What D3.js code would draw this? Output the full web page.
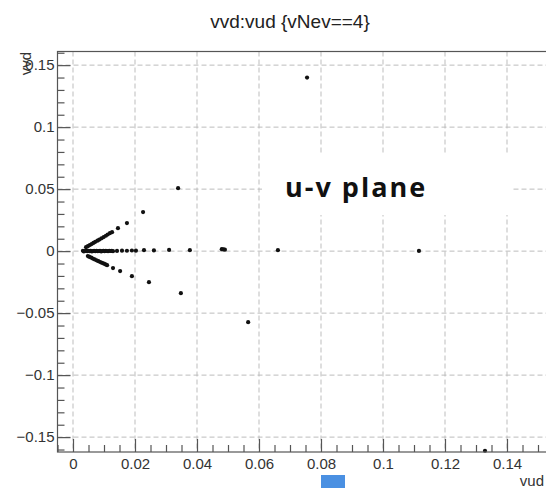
<!DOCTYPE html>
<html>
<head>
<meta charset="utf-8">
<script src="https://cdn.jsdelivr.net/npm/d3@7"></script>
<style>
  html, body { margin: 0; padding: 0; background: #fff; }
  svg { display: block; }
</style>
</head>
<body>
<svg id="chart" width="546" height="488"></svg>
<script>
// vud (x) and vvd (y) for events with vNev==4
const vud = [
  // cluster along vvd = 0
  0.0032, 0.0035, 0.0039, 0.0043, 0.0046, 0.0050, 0.0054, 0.0057, 0.0061, 0.0065,
  0.0068, 0.0072, 0.0076, 0.0080, 0.0083, 0.0087, 0.0091, 0.0095, 0.0098, 0.0102,
  0.0106, 0.0110, 0.0113, 0.0117, 0.0121, 0.0125, 0.0129,
  0.0142, 0.0158, 0.0174, 0.0190, 0.0203, 0.0229, 0.0261, 0.0310, 0.0377,
  0.0480, 0.0485, 0.0490, 0.0661, 0.1116,
  // upper branch
  0.0042, 0.0048, 0.0054, 0.0060, 0.0066, 0.0072, 0.0079, 0.0085, 0.0092, 0.0099,
  0.0106, 0.0112, 0.0119, 0.0126, 0.0145, 0.0174, 0.0226, 0.0339, 0.0755,
  // lower branch
  0.0048, 0.0053, 0.0059, 0.0064, 0.0070, 0.0076, 0.0082, 0.0088, 0.0094, 0.0100,
  0.0105, 0.0110, 0.0129, 0.0152, 0.0190, 0.0245, 0.0348, 0.0565, 0.1329
];
const vvd = [
  0.0003, -0.0002, 0.0001, 0.0004, -0.0001, 0.0002, 0.0000, 0.0003, -0.0002, 0.0001,
  0.0002, -0.0001, 0.0003, 0.0000, 0.0001, 0.0002, -0.0002, 0.0001, 0.0003, 0.0000,
  0.0002, 0.0001, -0.0001, 0.0003, 0.0001, 0.0002, 0.0000,
  0.0002, 0.0004, 0.0003, 0.0005, 0.0004, 0.0008, 0.0006, 0.0010, 0.0008,
  0.0016, 0.0014, 0.0012, 0.0008, 0.0002,
  0.0032, 0.0040, 0.0049, 0.0057, 0.0066, 0.0075, 0.0084, 0.0093, 0.0103, 0.0113,
  0.0124, 0.0134, 0.0145, 0.0153, 0.0185, 0.0226, 0.0315, 0.0508, 0.1400,
  -0.0040, -0.0047, -0.0053, -0.0060, -0.0067, -0.0074, -0.0081, -0.0088, -0.0095, -0.0101,
  -0.0107, -0.0113, -0.0137, -0.0161, -0.0202, -0.0250, -0.0339, -0.0573, -0.1610
];

const xMajor = [0, 0.02, 0.04, 0.06, 0.08, 0.1, 0.12, 0.14, 0.16];
const xMajorLabels = ["0", "0.02", "0.04", "0.06", "0.08", "0.1", "0.12", "0.14", ""];
const yMajor = [-0.15, -0.1, -0.05, 0, 0.05, 0.1, 0.15];
const yMajorLabels = ["\u22120.15", "\u22120.1", "\u22120.05", "0", "0.05", "0.1", "0.15"];

const title = "vvd:vud {vNev==4}";
const xTitle = "vud";
const yTitle = "vvd";
const note = "u-v plane";

const svg = d3.select("#chart");
const W = 546, H = 488;
svg.append("rect").attr("width", W).attr("height", H).attr("fill", "#fff");

// frame extends past the right edge of the canvas
const frame = { left: 57.5, right: 569, top: 51.5, bottom: 452 };
const x = d3.scaleLinear().domain([-0.005, 0.16]).range([frame.left, frame.right]);
const y = d3.scaleLinear().domain([-0.162, 0.161]).range([frame.bottom, frame.top]);

const xMinor = d3.range(-0.005, 0.1601, 0.005).map(v => +v.toFixed(4))
  .filter(v => !xMajor.some(m => Math.abs(m - v) < 1e-9));
const yMinor = d3.range(-0.16, 0.1601, 0.01).map(v => +v.toFixed(4))
  .filter(v => !yMajor.some(m => Math.abs(m - v) < 1e-9));

const g = svg.append("g");

// dashed grid at major ticks
g.append("g").selectAll("line").data(xMajor.filter(v => x(v) < W)).join("line")
  .attr("x1", d => x(d)).attr("x2", d => x(d))
  .attr("y1", frame.top).attr("y2", frame.bottom)
  .attr("stroke", "#bdbdbd").attr("stroke-width", 1).attr("stroke-dasharray", "5,3");
g.append("g").selectAll("line").data(yMajor).join("line")
  .attr("x1", frame.left).attr("x2", frame.right)
  .attr("y1", d => y(d)).attr("y2", d => y(d))
  .attr("stroke", "#bdbdbd").attr("stroke-width", 1).attr("stroke-dasharray", "5,3");

// white box behind the annotation
g.append("rect").attr("x", 262).attr("y", 153).attr("width", 250).attr("height", 62)
  .attr("fill", "#fff");

// markers
const pts = vud.map((v, i) => [v, vvd[i]]);
g.append("g").selectAll("circle").data(pts).join("circle")
  .attr("cx", d => x(d[0])).attr("cy", d => y(d[1]))
  .attr("r", 2.1).attr("fill", "#111");

const axisColor = "#555";
const labelFont = "'Liberation Sans', Arial, sans-serif";

// x axis, ticks pointing into the frame
const xAxis = g.append("g").attr("transform", `translate(0,${frame.bottom})`)
  .call(d3.axisBottom(x).tickValues(xMajor).tickSize(-13).tickPadding(6)
    .tickFormat((d, i) => xMajorLabels[i]));
g.append("g").attr("transform", `translate(0,${frame.bottom})`)
  .call(d3.axisBottom(x).tickValues(xMinor).tickSize(-7).tickFormat(""))
  .call(s => s.select(".domain").remove());

// y axis
const yAxis = g.append("g").attr("transform", `translate(${frame.left},0)`)
  .call(d3.axisLeft(y).tickValues(yMajor).tickSize(-13).tickPadding(3)
    .tickFormat((d, i) => yMajorLabels[i]));
g.append("g").attr("transform", `translate(${frame.left},0)`)
  .call(d3.axisLeft(y).tickValues(yMinor).tickSize(-7).tickFormat(""))
  .call(s => s.select(".domain").remove());

[xAxis, yAxis].forEach(a => a.select(".domain").remove());
g.selectAll(".tick line").attr("stroke", axisColor).attr("stroke-width", 1.2);
g.selectAll(".tick text").attr("font-family", labelFont).attr("font-size", 15)
  .attr("fill", "#333");

// frame
g.append("rect").attr("x", frame.left).attr("y", frame.top)
  .attr("width", frame.right - frame.left).attr("height", frame.bottom - frame.top)
  .attr("fill", "none").attr("stroke", axisColor).attr("stroke-width", 1.2);

// title
svg.append("text").attr("x", 290).attr("y", 28).attr("text-anchor", "middle")
  .attr("font-family", labelFont).attr("font-size", 19).attr("fill", "#222")
  .text(title);

// axis titles
svg.append("text").attr("transform", "translate(31,52) rotate(-90)")
  .attr("text-anchor", "end").attr("font-family", labelFont).attr("font-size", 15)
  .attr("fill", "#333").text(yTitle);
svg.append("text").attr("x", 544).attr("y", 486).attr("text-anchor", "end")
  .attr("font-family", labelFont).attr("font-size", 15)
  .attr("fill", "#333").text(xTitle);

// annotation
svg.append("text").attr("x", 285).attr("y", 197)
  .attr("font-family", "'Open Sans', sans-serif").attr("font-weight", 700)
  .attr("font-size", 27).attr("letter-spacing", 2).attr("fill", "#111")
  .text(note);

// small blue marker under the x axis
svg.append("rect").attr("x", 321).attr("y", 475).attr("width", 24).attr("height", 13)
  .attr("fill", "#4a90e2");
</script>
</body>
</html>
